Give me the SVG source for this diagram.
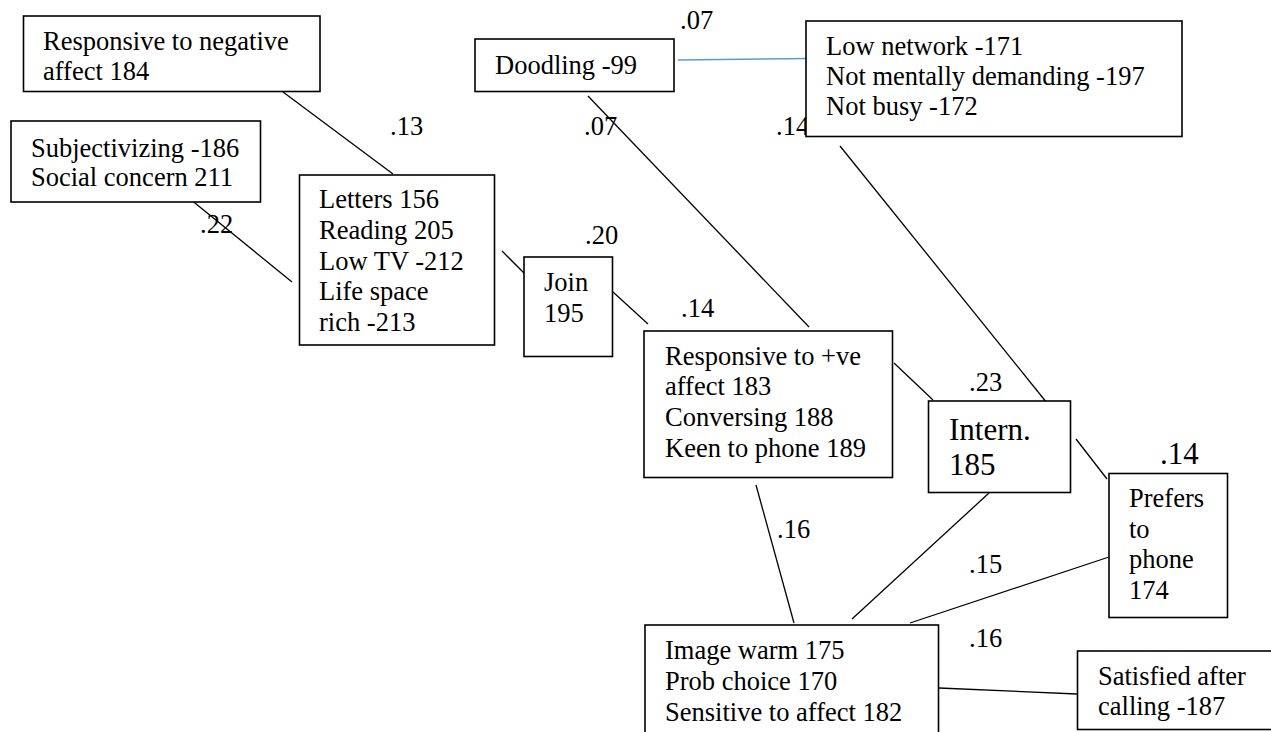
<svg xmlns="http://www.w3.org/2000/svg" width="1271" height="732" viewBox="0 0 1271 732">
  <style>
    text { font-family: "Liberation Serif", "Times New Roman", serif; font-size: 26.5px; fill: #000; }
    .big { font-size: 31px; }
    .box { fill: #fff; stroke: #000; stroke-width: 1.6; }
    .link { stroke: #000; stroke-width: 1.3; fill: none; }
    .link-blue { stroke: #5b9bd5; stroke-width: 1.6; fill: none; }
  </style>
  <rect width="1271" height="732" fill="#fff"/>

  <!-- coefficient labels (drawn first so boxes may overlap them) -->
  <g id="coefficients">
    <text x="390" y="135">.13</text>
    <text x="200" y="233">.22</text>
    <text x="680" y="29">.07</text>
    <text x="584" y="135">.07</text>
    <text x="776" y="135">.14</text>
    <text x="585" y="244">.20</text>
    <text x="681" y="317">.14</text>
    <text x="969" y="391">.23</text>
    <text class="big" x="1160" y="464">.14</text>
    <text x="969" y="573">.15</text>
    <text x="777" y="538">.16</text>
    <text x="969" y="647">.16</text>
  </g>

  <!-- connectors -->
  <g id="connectors">
    <line class="link" x1="283" y1="92" x2="393" y2="174"/>
    <line class="link" x1="190" y1="199" x2="292" y2="282"/>
    <line class="link" x1="502" y1="251" x2="527" y2="276"/>
    <line class="link" x1="613" y1="292" x2="648" y2="324"/>
    <line class="link-blue" x1="678" y1="60" x2="809" y2="58.5"/>
    <line class="link" x1="588" y1="96" x2="809" y2="327"/>
    <line class="link" x1="840" y1="146" x2="1047" y2="403"/>
    <line class="link" x1="894" y1="363" x2="933" y2="400"/>
    <line class="link" x1="1076" y1="439" x2="1107" y2="479"/>
    <line class="link" x1="756" y1="485" x2="794" y2="623"/>
    <line class="link" x1="989" y1="493" x2="852" y2="619"/>
    <line class="link" x1="1112" y1="556" x2="910" y2="623"/>
    <line class="link" x1="939" y1="688" x2="1077" y2="694"/>
  </g>

  <g id="node-neg-affect">
    <rect class="box" x="23.5" y="16" width="296.5" height="75.5"/>
    <text x="43" y="50">Responsive to negative</text>
    <text x="43" y="80">affect 184</text>
  </g>

  <g id="node-subjectivizing">
    <rect class="box" x="11" y="121" width="249.5" height="81"/>
    <text x="31" y="157">Subjectivizing -186</text>
    <text x="31" y="186">Social concern 211</text>
  </g>

  <g id="node-letters">
    <rect class="box" x="299.5" y="175" width="195" height="170"/>
    <text x="319" y="208">Letters 156</text>
    <text x="319" y="239">Reading 205</text>
    <text x="319" y="269.5">Low TV -212</text>
    <text x="319" y="300">Life space</text>
    <text x="319" y="330.5">rich -213</text>
  </g>

  <g id="node-doodling">
    <rect class="box" x="475" y="39" width="199" height="52.5"/>
    <text x="495" y="74">Doodling -99</text>
  </g>

  <g id="node-low-network">
    <rect class="box" x="806" y="21" width="376" height="115.5"/>
    <text x="826" y="55">Low network -171</text>
    <text x="826" y="85">Not mentally demanding -197</text>
    <text x="826" y="115">Not busy -172</text>
  </g>

  <g id="node-join">
    <rect class="box" x="524" y="257" width="88.5" height="99.5"/>
    <text x="544" y="291">Join</text>
    <text x="544" y="322">195</text>
  </g>

  <g id="node-pos-affect">
    <rect class="box" x="644" y="331" width="248.5" height="146.5"/>
    <text x="665" y="364.5">Responsive to +ve</text>
    <text x="665" y="395">affect 183</text>
    <text x="665" y="426">Conversing 188</text>
    <text x="665" y="457">Keen to phone 189</text>
  </g>

  <g id="node-intern">
    <rect class="box" x="928.5" y="401" width="142" height="91.5"/>
    <text class="big" x="949" y="440">Intern.</text>
    <text class="big" x="949" y="475">185</text>
  </g>

  <g id="node-prefers-phone">
    <rect class="box" x="1109" y="473.5" width="118.5" height="144"/>
    <text x="1129" y="507">Prefers</text>
    <text x="1129" y="537.5">to</text>
    <text x="1129" y="568">phone</text>
    <text x="1129" y="599">174</text>
  </g>

  <g id="node-image-warm">
    <rect class="box" x="645" y="625" width="293.5" height="130"/>
    <text x="665" y="659">Image warm 175</text>
    <text x="665" y="690">Prob choice 170</text>
    <text x="665" y="720.5">Sensitive to affect 182</text>
  </g>

  <g id="node-satisfied">
    <rect class="box" x="1077.5" y="651" width="210" height="78.5"/>
    <text x="1098" y="685">Satisfied after</text>
    <text x="1098" y="715">calling -187</text>
  </g>
</svg>
